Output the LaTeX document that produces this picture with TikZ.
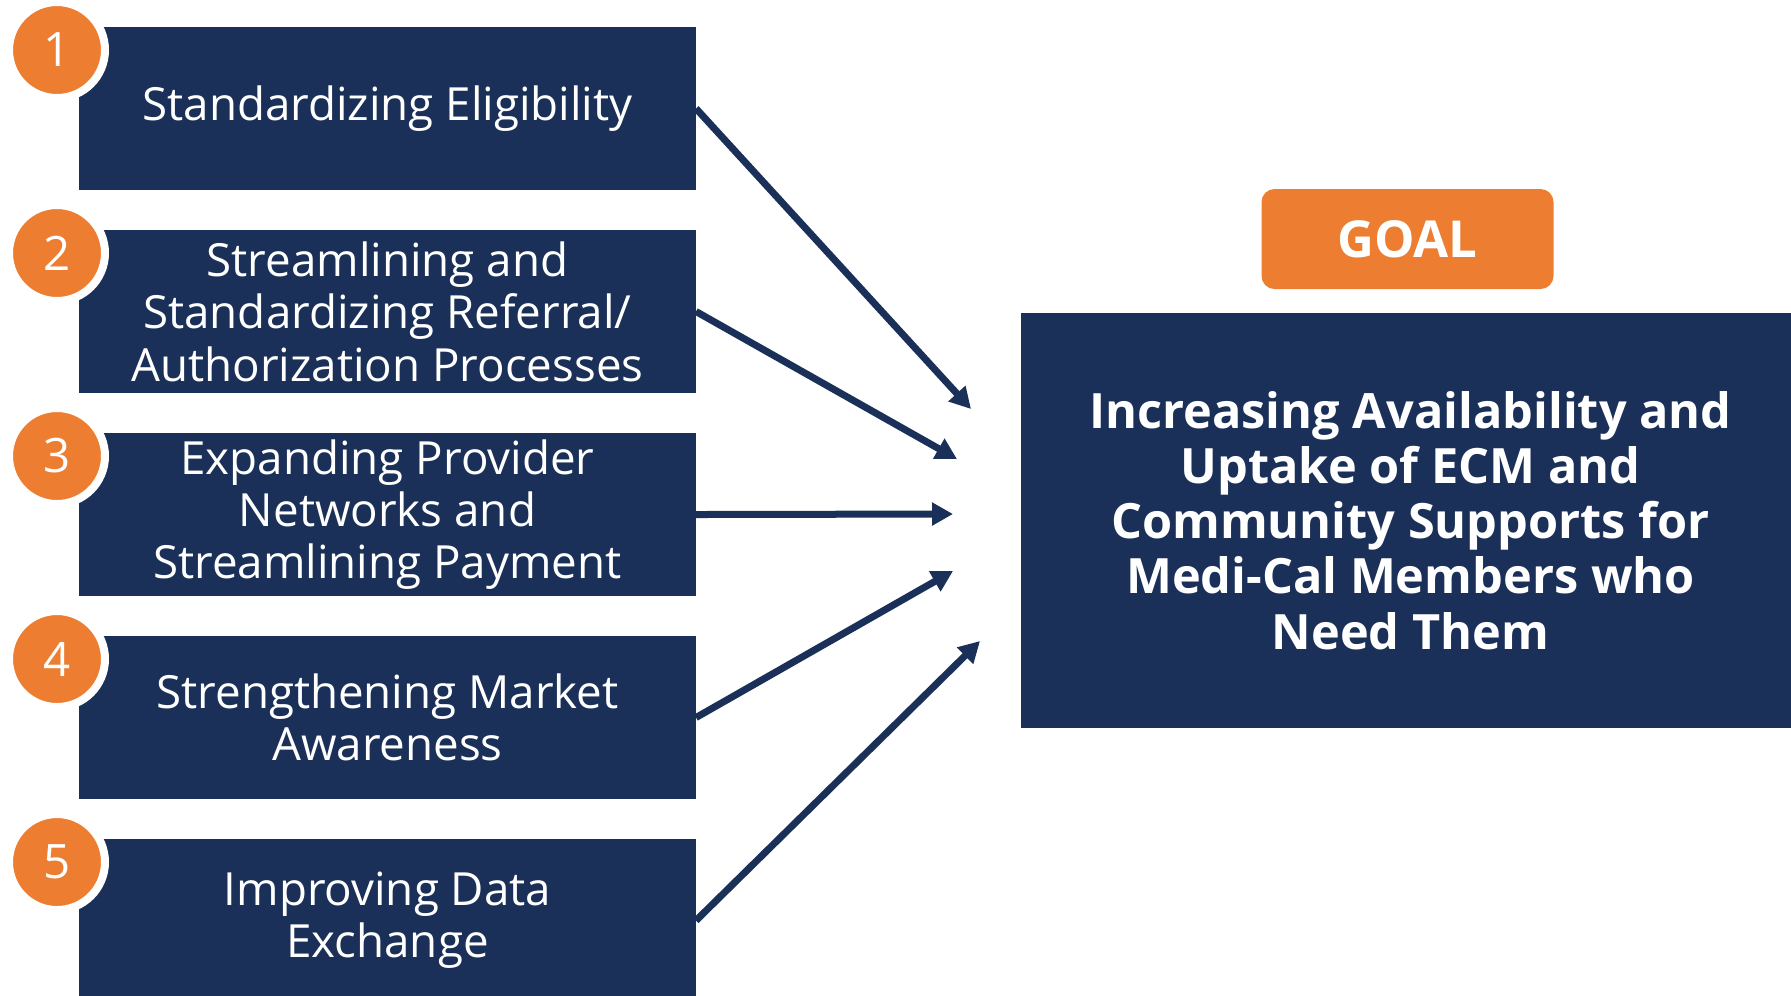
\documentclass[tikz,border=0pt]{standalone}
\usepackage{fontspec}
\setmainfont{Open Sans}
\usetikzlibrary{positioning, arrows.meta}

\definecolor{navy}{HTML}{1B3058}
\definecolor{tangerine}{HTML}{ED7D31}

\begin{document}
\begin{tikzpicture}[
    every node/.style = {text=white, outer sep=0pt},
    area/.style = {fill=navy, minimum width=6.17cm, minimum height=1.63cm, inner sep=0pt, align=center, font=\fontsize{13}{14.9}\selectfont},
    num/.style = {circle, fill=tangerine, draw=white, line width=0.08cm, minimum size=0.96cm, inner sep=0pt, font=\fontsize{13.5}{16}\selectfont},
    every edge/.style = {draw=navy, line width=0.07cm, -{Triangle[length=0.21cm, width=0.22cm]}},
    node distance = 0.4cm
]
    \useasboundingbox (0,0) rectangle (17.91,-9.95);

    \node (elig) [area] at (3.875,-1.085) {Standardizing Eligibility};
    \node (referral) [area, below=of elig] {Streamlining and\\Standardizing Referral/\\Authorization Processes};
    \node (network) [area, below=of referral] {Expanding Provider\\Networks and\\Streamlining Payment};
    \node (market) [area, below=of network] {Strengthening Market\\Awareness};
    \node (data) [area, below=of market] {Improving Data\\Exchange};

    \foreach \nm [count=\i] in {elig, referral, network, market, data}
        \node (n\i) [num] at ([shift={(-0.22,-0.23)}]\nm.north west) {\i};

    \node (goal) [area, minimum width=7.79cm, minimum height=4.15cm, font=\bfseries\fontsize{13.85}{15.7}\selectfont] at (14.105,-5.205)
        {Increasing Availability and\\Uptake of ECM and\\Community Supports for\\Medi-Cal Members who\\Need Them};
    \node (tag) [fill=tangerine, rounded corners=0.13cm, minimum width=2.92cm, minimum height=1cm, font=\bfseries\fontsize{14.5}{17}\selectfont, above=0.24cm of goal, xshift=-0.03cm] {GOAL};

    % where the arrows stop, short of the goal
    \coordinate (in1) at (9.71,-4.09);
    \coordinate (in2) at (9.57,-4.59);
    \coordinate (in3) at (9.53,-5.14);
    \coordinate (in4) at (9.53,-5.71);
    \coordinate (in5) at (9.80,-6.41);

    \draw (elig.east) edge (in1)
        (referral.east) edge (in2)
        (network.east) edge (in3)
        (market.east) edge (in4)
        (data.east) edge (in5);
\end{tikzpicture}
\end{document}
